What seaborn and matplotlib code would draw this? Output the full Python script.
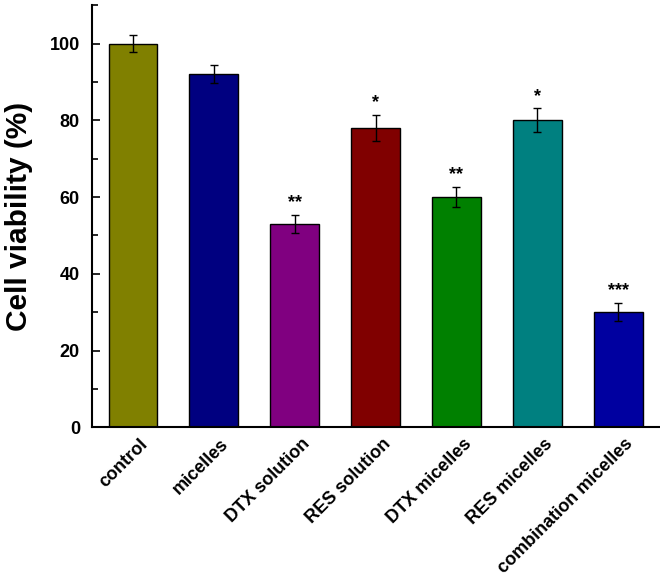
import pandas as pd
import matplotlib
matplotlib.use("Agg")
import matplotlib.pyplot as plt
import matplotlib.transforms as mtransforms
import seaborn as sns
from matplotlib.ticker import MultipleLocator

sns.set_style("ticks")
plt.rcParams["font.family"] = ["Liberation Sans", "DejaVu Sans"]
plt.rcParams["font.weight"] = "bold"
for key in ["text.color", "axes.labelcolor", "xtick.color", "ytick.color",
            "axes.edgecolor"]:
    plt.rcParams[key] = "black"

groups = ["control", "micelles", "DTX solution", "RES solution",
          "DTX micelles", "RES micelles", "combination micelles"]
viability = [100, 92, 53, 78, 60, 80, 30]
errors = [2.2, 2.3, 2.3, 3.4, 2.6, 3.1, 2.3]
stars = ["", "", "**", "*", "**", "*", "***"]
colors = ["#808000", "#000080", "#800080", "#800000",
          "#008000", "#008080", "#0000A0"]

df = pd.DataFrame({"group": groups, "viability": viability})

fig = plt.figure(figsize=(6.6, 5.79), dpi=100)
ax = fig.add_axes([0.14, 0.262, 0.858, 0.729])

sns.barplot(data=df, x="group", y="viability", hue="group", palette=colors,
            legend=False, width=0.6, edgecolor="black", linewidth=1,
            saturation=1, ax=ax)
ax.errorbar(range(len(groups)), viability, yerr=errors, fmt="none",
            ecolor="black", elinewidth=1, capsize=3, capthick=1)

# significance marks above the error bars
for i, (v, e, s) in enumerate(zip(viability, errors, stars)):
    if s:
        ax.text(i, v + e + 1, s, ha="center", va="bottom",
                fontsize=13, fontweight="bold")

ax.set_xlim(-0.5, 6.5)
ax.set_ylim(0, 110)
ax.yaxis.set_major_locator(MultipleLocator(20))
ax.yaxis.set_minor_locator(MultipleLocator(10))
ax.set_yticks(range(0, 101, 20))
ax.tick_params(axis="y", which="major", direction="in", length=6, width=1.2,
               labelsize=13, pad=9)
ax.tick_params(axis="y", which="minor", direction="in", length=4, width=1.2)
ax.tick_params(axis="x", length=0, labelsize=13, pad=6)
shift = mtransforms.ScaledTranslation(4.5 / 72, 0, fig.dpi_scale_trans)
for lbl in ax.get_xticklabels():
    lbl.set_rotation(45)
    lbl.set_ha("right")
    lbl.set_rotation_mode("anchor")
    lbl.set_fontweight("bold")
    lbl.set_transform(lbl.get_transform() + shift)
for lbl in ax.get_yticklabels():
    lbl.set_fontweight("bold")

ax.set_xlabel("")
ax.set_ylabel("Cell viability (%)", fontsize=21.5, fontweight="bold", labelpad=12)
for side in ["top", "right"]:
    ax.spines[side].set_visible(False)
for side in ["left", "bottom"]:
    ax.spines[side].set_linewidth(1.5)

fig.savefig("out.png", dpi=100)
